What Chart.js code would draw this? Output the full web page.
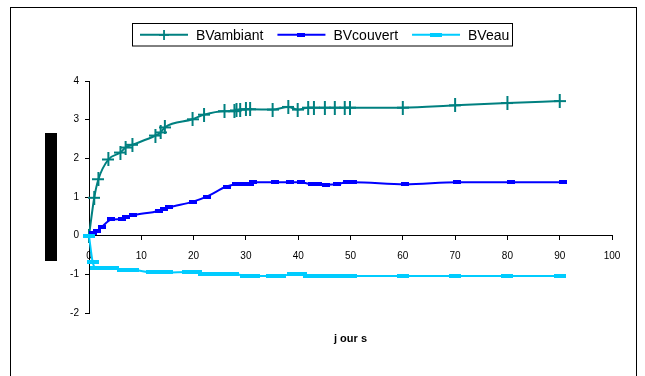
<!DOCTYPE html>
<html>
<head>
<meta charset="utf-8">
<script src="https://cdn.jsdelivr.net/npm/chart.js@4/dist/chart.umd.min.js"></script>
<style>
  html, body { margin: 0; padding: 0; background: #fff; }
  #wrap { width: 645px; height: 376px; position: relative; }
</style>
</head>
<body>
<div id="wrap"><canvas id="c" width="645" height="376"></canvas></div>
<script>
// Series names, days and measured values
const seriesNames = ['BVambiant', 'BVcouvert', 'BVeau'];
const xTitle = 'j our s';

const ambiantDays   = [0, 1, 1.8, 3.7, 6, 7, 8.3, 12.7, 13.7, 14.5, 19.8, 22, 25.9, 27.8, 28.2, 28.9, 30, 30.8, 35.1, 38.1, 39.9, 41.9, 43, 45.1, 47, 48.9, 49.9, 60, 70, 80, 90];
const ambiantValues = [0, 0.98, 1.46, 1.97, 2.15, 2.28, 2.35, 2.59, 2.67, 2.8, 3.01, 3.13, 3.22, 3.22, 3.24, 3.26, 3.27, 3.27, 3.26, 3.33, 3.26, 3.31, 3.31, 3.31, 3.31, 3.31, 3.31, 3.31, 3.37, 3.43, 3.48];

const couvertDays   = [0, 0.8, 1.6, 2.4, 4.3, 6.3, 7.1, 8.5, 13.3, 14.4, 15.3, 19.9, 22.5, 26.3, 28.2, 29.5, 30.8, 31.4, 35.6, 38.4, 40.5, 42.6, 43.8, 45.4, 47.4, 49.3, 50.5, 60.4, 70.4, 80.6, 90.7];
const couvertValues = [0, 0.08, 0.13, 0.22, 0.42, 0.43, 0.48, 0.53, 0.64, 0.69, 0.73, 0.88, 1.01, 1.27, 1.33, 1.34, 1.34, 1.38, 1.38, 1.38, 1.38, 1.33, 1.33, 1.32, 1.33, 1.38, 1.38, 1.33, 1.38, 1.38, 1.38];

const eauDays   = [0, 0.7, 1.3, 3, 4.5, 6.5, 8.5, 12, 13.5, 15, 19, 20.5, 22, 23.5, 25.5, 27.5, 30, 31.5, 35, 36.5, 39, 40.5, 42, 43.5, 45, 46.5, 48, 50, 60, 70, 80, 90];
const eauValues = [0, -0.68, -0.83, -0.83, -0.84, -0.89, -0.89, -0.95, -0.95, -0.95, -0.94, -0.94, -1.0, -1.0, -0.98, -0.98, -1.04, -1.04, -1.04, -1.04, -0.99, -0.98, -1.04, -1.04, -1.04, -1.04, -1.04, -1.04, -1.04, -1.04, -1.04, -1.04];

const xTicks = [0, 10, 20, 30, 40, 50, 60, 70, 80, 90, 100];
const yTicks = [-2, -1, 0, 1, 2, 3, 4];

const FONT = "'Liberation Sans', Arial, sans-serif";
const TEAL = '#008080', BLUE = '#0000FF', SKY = '#00CCFF';

function pairs(xs, ys) { return xs.map((x, i) => ({ x: x, y: ys[i] })); }

// Marker images
function crossMarker(color, w, h, lw) {
  const c = document.createElement('canvas');
  c.width = w; c.height = h;
  const g = c.getContext('2d');
  g.fillStyle = color;
  g.fillRect((w - lw) / 2, 0, lw, h);
  g.fillRect(0, (h - lw) / 2, w, lw);
  return c;
}
function rectMarker(color, w, h) {
  const c = document.createElement('canvas');
  c.width = w; c.height = h;
  const g = c.getContext('2d');
  g.fillStyle = color;
  g.fillRect(0, 0, w, h);
  return c;
}
const markerAmbiant = crossMarker(TEAL, 12, 14, 2);
const markerCouvert = rectMarker(BLUE, 8, 4);
const markerEau = rectMarker(SKY, 12, 4);

function lineDataset(label, xs, ys, color, marker, order) {
  return {
    label: label,
    data: pairs(xs, ys),
    borderColor: color,
    backgroundColor: color,
    borderWidth: 2,
    pointStyle: marker,
    pointRadius: 4,
    pointHoverRadius: 4,
    showLine: true,
    tension: 0.4,
    cubicInterpolationMode: 'monotone',
    clip: false,
    order: order
  };
}

// Page background, outer frame, hidden-axis block, x title and legend box
const decor = {
  id: 'decor',
  beforeDraw(chart) {
    const ctx = chart.ctx;
    ctx.save();
    ctx.fillStyle = '#fff';
    ctx.fillRect(0, 0, chart.width, chart.height);
    ctx.restore();
  },
  afterDraw(chart) {
    const ctx = chart.ctx;
    const area = chart.chartArea;
    ctx.save();
    // frame
    ctx.strokeStyle = '#000';
    ctx.lineWidth = 1;
    ctx.strokeRect(10.5, 7.5, 626, 400);
    // y-axis title block
    ctx.fillStyle = '#000';
    ctx.fillRect(45, 133, 12, 128);
    // x title
    ctx.font = 'bold 11px ' + FONT;
    ctx.textAlign = 'center';
    ctx.textBaseline = 'middle';
    ctx.fillText(xTitle, (area.left + area.right) / 2, 339);
    // legend
    const boxL = 132.5, boxT = 23.5, boxW = 380, boxH = 22.5;
    ctx.strokeRect(boxL, boxT, boxW, boxH);
    const cy = boxT + boxH / 2;
    ctx.font = '14px ' + FONT;
    ctx.textAlign = 'left';
    let x = 140;
    chart.data.datasets.forEach(ds => {
      ctx.strokeStyle = ds.borderColor;
      ctx.lineWidth = 2;
      ctx.beginPath();
      ctx.moveTo(x, cy);
      ctx.lineTo(x + 48, cy);
      ctx.stroke();
      const m = ds.pointStyle;
      const mw = ds.label === seriesNames[0] ? 10 : m.width;
      const mh = ds.label === seriesNames[0] ? 10 : Math.min(m.height, 4);
      ctx.drawImage(m, Math.round(x + 24 - mw / 2), Math.round(cy - mh / 2), mw, mh);
      ctx.fillStyle = '#000';
      ctx.fillText(ds.label, x + 56, cy + 1);
      x += 56 + ctx.measureText(ds.label).width + 14;
    });
    ctx.restore();
  }
};

new Chart(document.getElementById('c'), {
  type: 'scatter',
  data: {
    datasets: [
      lineDataset(seriesNames[0], ambiantDays, ambiantValues, TEAL, markerAmbiant, 2),
      lineDataset(seriesNames[1], couvertDays, couvertValues, BLUE, markerCouvert, 1),
      lineDataset(seriesNames[2], eauDays, eauValues, SKY, markerEau, 0)
    ]
  },
  options: {
    responsive: false,
    animation: false,
    devicePixelRatio: 1,
    layout: { padding: { left: 0, right: 33, top: 81, bottom: 63 } },
    plugins: {
      legend: { display: false },
      tooltip: { enabled: false },
      title: { display: false }
    },
    scales: {
      x: {
        type: 'linear',
        min: 0, max: 100,
        position: { y: 0 },
        afterBuildTicks: s => { s.ticks = xTicks.map(v => ({ value: v })); },
        grid: { drawOnChartArea: false, drawTicks: true, tickLength: 4, color: '#000' },
        border: { display: true, color: '#000', width: 1 },
        ticks: { color: '#000', font: { family: FONT, size: 10 }, padding: 11, maxRotation: 0, autoSkip: false }
      },
      y: {
        type: 'linear',
        min: -2, max: 4,
        position: 'left',
        afterBuildTicks: s => { s.ticks = yTicks.map(v => ({ value: v })); },
        afterFit: s => { s.width = 89; },
        grid: { drawOnChartArea: false, drawTicks: true, tickLength: 4, color: '#000' },
        border: { display: true, color: '#000', width: 1 },
        ticks: { color: '#000', font: { family: FONT, size: 10 }, padding: 6 }
      }
    }
  },
  plugins: [decor]
});
</script>
</body>
</html>
